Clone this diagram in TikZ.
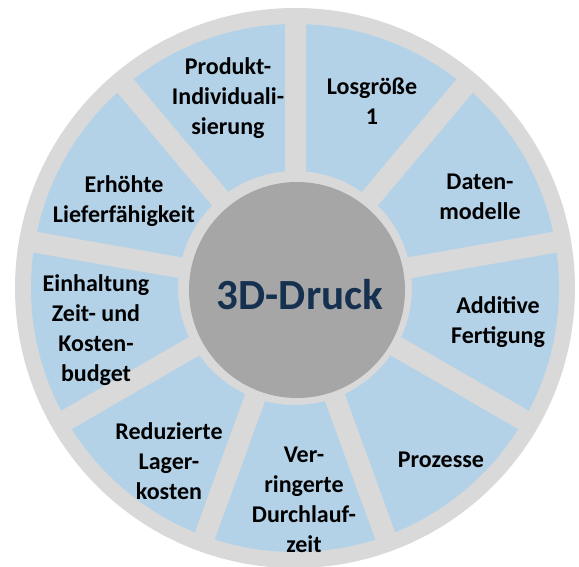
\documentclass[tikz,border=0pt]{standalone}
\usepackage{fontspec}
\setmainfont{Carlito}
\definecolor{ringgray}{HTML}{D9D9D9}
\definecolor{segblue}{HTML}{B4D2E7}
\definecolor{hubgray}{HTML}{A6A6A6}
\definecolor{navy}{HTML}{16304F}
\tikzset{
  lbl/.style={align=center, font=\bfseries\fontsize{24}{30}\selectfont, text=black, inner sep=0pt},
  hubtext/.style={font=\bfseries\fontsize{43}{50}\selectfont, text=navy, inner sep=0pt},
  gap/.style={draw=ringgray, line width=21pt}
}
\begin{document}
\begin{tikzpicture}[x=1pt,y=1pt]
\useasboundingbox (0,0) rectangle (579,566);
\coordinate (c) at (295,278);
\fill[ringgray] (c) circle (280pt);
\fill[segblue, even odd rule] (c) circle (264pt) (c) circle (117pt);
\foreach \a in {90,50,10,-30,-70,-110,-150,170,130}
  \draw[gap] (c) -- ++(\a:272pt);
\fill[hubgray] (297,276) circle (108pt);
\node[hubtext] (hub) at (300,271) {3D-Druck};
\node[lbl] (produkt) at (228,468) {Produkt-\\Individuali-\\sierung};
\node[lbl] (los) at (372,465) {Losgröße\\1};
\node[lbl] (daten) at (480,369) {Daten-\\modelle};
\node[lbl] (additive) at (498,244) {Additive\\Fertigung};
\node[lbl] (prozesse) at (441,106) {Prozesse};
\node[lbl] (ver) at (304,66) {Ver-\\ringerte\\Durchlauf-\\zeit};
\node[lbl] (reduz) at (169,105) {Reduzierte\\Lager-\\kosten};
\node[lbl] (einh) at (96,236) {Einhaltung\\Zeit- und\\Kosten-\\budget};
\node[lbl] (erh) at (124,365) {Erhöhte\\Lieferfähigkeit};
\end{tikzpicture}
\end{document}
